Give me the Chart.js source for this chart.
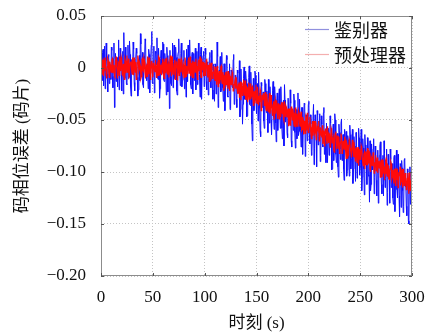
<!DOCTYPE html>
<html>
<head>
<meta charset="utf-8">
<script src="https://cdn.jsdelivr.net/npm/chart.js@4/dist/chart.umd.min.js"></script>
<style>
  html, body { margin: 0; padding: 0; background: #fff; }
  #wrap { width: 426px; height: 336px; }
</style>
</head>
<body>
<div id="wrap"><canvas id="errChart" width="426" height="336"></canvas></div>
<script>
// code phase error in chips, sampled every 0.5 s from 0 to 300 s
const sampleStep = 0.5;

const discriminator = [
  0.005,-0.009,-0.012,0.015,0.018,-0.017,0.002,0.021,-0.020,-0.004,0.024,0.007,-0.006,-0.023,0.011,0.013,-0.015,0.001,0.003,-0.011,
  0.020,0.017,-0.008,-0.019,0.009,0.024,-0.038,-0.006,0.014,-0.013,0.006,0.010,-0.018,0.003,0.027,-0.021,-0.003,0.019,0.009,-0.007,
  -0.022,0.012,0.016,-0.025,0.034,0.006,-0.010,0.020,0.004,-0.015,-0.016,0.002,0.022,-0.010,-0.005,0.026,0.013,-0.018,-0.027,0.008,
  0.008,-0.003,0.025,0.018,-0.014,-0.022,0.002,0.009,0.019,0.014,-0.009,-0.027,-0.021,0.005,0.012,-0.012,0.033,0.023,-0.006,-0.001,
  0.015,-0.016,-0.019,0.011,0.007,0.028,0.026,-0.008,-0.012,0.004,-0.002,-0.020,0.018,0.013,-0.024,-0.005,0.010,0.022,0.035,-0.014,
  -0.015,0.007,0.021,-0.024,-0.007,0.016,0.014,0.003,0.029,-0.010,-0.011,0.019,0.005,-0.029,-0.020,0.009,0.017,-0.006,-0.004,0.025,
  0.023,-0.011,-0.013,0.014,0.009,-0.002,-0.026,0.020,0.012,-0.023,0.001,0.006,-0.039,0.017,-0.008,-0.015,-0.017,0.003,0.024,-0.019,
  0.006,0.022,-0.010,-0.007,0.020,0.010,-0.022,-0.026,0.011,0.015,0.028,0.001,-0.005,-0.017,0.014,0.024,-0.018,-0.012,0.004,0.008,
  0.017,-0.020,-0.009,0.005,-0.028,0.018,0.010,-0.013,0.022,-0.001,-0.003,0.027,0.008,-0.016,-0.020,0.011,0.015,-0.025,0.001,0.014,
  -0.012,0.003,0.019,-0.021,0.005,0.016,-0.016,-0.008,0.024,0.009,-0.006,-0.028,0.013,0.020,-0.030,-0.004,0.007,0.012,0.016,-0.018,
  -0.003,0.019,0.013,-0.013,-0.021,0.005,0.006,-0.026,-0.010,0.010,0.015,-0.006,-0.019,0.017,-0.002,-0.021,-0.030,0.003,0.004,-0.032,
  -0.002,0.004,-0.025,-0.012,0.025,0.011,-0.038,-0.029,-0.002,-0.005,0.011,-0.023,-0.021,0.015,-0.009,-0.019,-0.032,0.004,0.004,-0.041,
  -0.018,-0.010,0.012,0.008,-0.027,-0.028,-0.010,-0.006,0.004,-0.040,-0.039,-0.002,-0.004,-0.018,-0.019,0.008,0.013,-0.035,-0.027,-0.007,
  -0.011,-0.030,-0.038,-0.002,-0.005,-0.024,-0.021,0.007,-0.047,-0.040,-0.001,-0.016,-0.015,-0.054,-0.035,-0.010,0.001,-0.030,-0.030,-0.003,
  -0.011,-0.047,-0.046,-0.015,-0.021,-0.009,0.002,-0.035,-0.036,-0.004,-0.018,-0.054,-0.070,-0.024,-0.010,-0.041,-0.031,-0.003,-0.007,-0.031,
  -0.044,-0.015,-0.020,-0.051,-0.004,-0.024,-0.039,-0.061,-0.066,-0.014,-0.017,-0.038,-0.028,-0.023,-0.051,-0.058,-0.011,-0.015,-0.035,-0.043,
  -0.022,-0.036,-0.062,-0.011,-0.029,-0.053,-0.018,-0.030,-0.050,-0.064,-0.040,-0.022,-0.013,-0.047,-0.059,-0.018,-0.030,-0.053,-0.071,-0.036,
  -0.024,-0.060,-0.046,-0.029,-0.020,-0.044,-0.058,-0.018,-0.037,-0.058,-0.068,-0.035,-0.031,-0.075,-0.016,-0.031,-0.052,-0.043,-0.042,-0.063,
  -0.067,-0.029,-0.029,-0.054,-0.050,-0.021,-0.034,-0.070,-0.076,-0.043,-0.040,-0.060,-0.025,-0.031,-0.062,-0.077,-0.048,-0.040,-0.068,-0.053,
  -0.024,-0.065,-0.061,-0.030,-0.046,-0.060,-0.076,-0.038,-0.038,-0.083,-0.056,-0.051,-0.034,-0.035,-0.085,-0.074,-0.045,-0.048,-0.070,-0.066,
  -0.035,-0.032,-0.064,-0.073,-0.045,-0.054,-0.084,-0.080,-0.055,-0.047,-0.035,-0.093,-0.077,-0.045,-0.054,-0.065,-0.095,-0.041,-0.045,-0.074,
  -0.066,-0.056,-0.044,-0.090,-0.084,-0.046,-0.054,-0.074,-0.076,-0.043,-0.038,-0.083,-0.073,-0.065,-0.091,-0.053,-0.053,-0.091,-0.065,-0.058,
  -0.084,-0.075,-0.046,-0.053,-0.063,-0.098,-0.097,-0.065,-0.054,-0.089,-0.076,-0.044,-0.050,-0.083,-0.091,-0.064,-0.063,-0.095,-0.105,-0.054,
  -0.062,-0.078,-0.088,-0.053,-0.049,-0.089,-0.078,-0.064,-0.097,-0.108,-0.059,-0.073,-0.072,-0.061,-0.104,-0.098,-0.065,-0.069,-0.087,-0.104,
  -0.055,-0.064,-0.097,-0.088,-0.072,-0.059,-0.111,-0.097,-0.066,-0.075,-0.086,-0.109,-0.062,-0.070,-0.106,-0.085,-0.080,-0.058,-0.067,-0.103,
  -0.096,-0.076,-0.059,-0.118,-0.105,-0.068,-0.077,-0.097,-0.122,-0.064,-0.074,-0.093,-0.089,-0.112,-0.067,-0.078,-0.104,-0.103,-0.129,-0.070,
  -0.118,-0.112,-0.073,-0.086,-0.098,-0.078,-0.068,-0.121,-0.105,-0.075,-0.090,-0.108,-0.123,-0.092,-0.079,-0.130,-0.103,-0.084,-0.075,-0.071,
  -0.099,-0.112,-0.121,-0.087,-0.084,-0.123,-0.070,-0.082,-0.115,-0.106,-0.090,-0.078,-0.132,-0.120,-0.083,-0.093,-0.100,-0.130,-0.078,-0.088,
  -0.115,-0.098,-0.092,-0.125,-0.131,-0.086,-0.084,-0.138,-0.109,-0.096,-0.079,-0.117,-0.125,-0.083,-0.101,-0.123,-0.143,-0.092,-0.093,-0.134,
  -0.089,-0.096,-0.118,-0.139,-0.133,-0.088,-0.087,-0.114,-0.111,-0.133,-0.142,-0.097,-0.100,-0.147,-0.150,-0.105,-0.095,-0.131,-0.119,-0.096,
  -0.132
];

const preprocessor = [
  0.004,-0.003,-0.006,0.007,0.008,-0.008,-0.002,0.005,0.010,0.002,-0.005,-0.010,0.001,0.009,0.007,-0.004,-0.009,0.006,0.003,-0.001,
  -0.004,0.008,0.009,-0.005,-0.001,0.003,-0.008,-0.009,0.006,0.011,0.002,-0.002,-0.010,0.006,0.005,-0.007,0.011,0.001,-0.003,0.010,
  0.007,-0.006,-0.007,0.004,0.000,-0.011,0.009,0.007,-0.005,0.000,0.012,-0.004,-0.002,0.009,-0.009,-0.008,0.004,0.005,0.006,-0.002,
  -0.006,0.010,0.003,-0.007,0.010,0.002,-0.004,0.006,-0.011,-0.009,0.005,0.012,0.008,-0.003,-0.001,0.004,0.002,-0.010,-0.008,0.008,
  0.009,-0.002,-0.003,0.009,0.006,-0.005,-0.010,0.003,0.001,-0.008,0.011,0.001,-0.006,0.010,0.004,-0.011,-0.002,0.006,0.007,-0.004,
  -0.009,0.005,0.005,-0.001,-0.004,0.008,0.008,-0.009,0.002,0.004,-0.007,0.011,0.010,-0.006,-0.005,0.002,0.003,-0.007,-0.001,0.009,
  0.006,-0.008,-0.010,0.003,0.009,-0.005,0.001,0.010,-0.006,0.001,0.004,-0.009,-0.003,0.007,0.012,-0.002,-0.008,0.011,0.002,-0.006,
  -0.005,0.004,0.008,-0.011,-0.001,0.006,0.005,-0.003,-0.012,0.009,0.003,-0.007,0.009,0.000,-0.004,0.008,0.006,-0.005,-0.007,0.003,
  0.001,-0.009,0.010,0.006,-0.008,0.002,-0.002,-0.006,0.007,0.010,-0.005,-0.001,0.011,-0.008,0.000,0.005,-0.009,0.007,0.004,-0.010,
  0.006,0.001,-0.004,0.009,0.002,-0.007,-0.011,0.004,0.008,-0.003,0.003,0.011,-0.006,-0.009,0.009,0.002,-0.002,0.006,-0.008,-0.004,
  0.005,-0.007,-0.004,0.007,0.009,-0.003,-0.009,0.003,-0.001,-0.013,0.005,0.000,-0.012,0.005,0.000,-0.010,-0.005,-0.004,0.002,-0.009,
  -0.012,0.001,-0.005,-0.016,0.002,-0.003,-0.018,-0.007,-0.003,-0.015,-0.011,0.001,0.002,-0.013,-0.015,-0.004,-0.007,-0.022,-0.019,-0.009,
  -0.004,-0.016,-0.016,-0.003,-0.011,-0.020,-0.003,-0.010,-0.022,-0.008,-0.010,-0.016,-0.015,-0.004,-0.007,-0.022,-0.021,-0.016,-0.014,-0.011,
  -0.020,-0.009,-0.009,-0.022,-0.025,-0.016,-0.014,-0.028,-0.019,-0.013,-0.031,-0.019,-0.014,-0.027,-0.018,-0.011,-0.026,-0.025,-0.012,-0.030,
  -0.030,-0.018,-0.019,-0.033,-0.022,-0.014,-0.030,-0.025,-0.015,-0.030,-0.027,-0.019,-0.018,-0.028,-0.036,-0.023,-0.023,-0.034,-0.022,-0.016,
  -0.032,-0.034,-0.018,-0.027,-0.036,-0.032,-0.028,-0.021,-0.024,-0.041,-0.040,-0.026,-0.031,-0.025,-0.024,-0.036,-0.035,-0.023,-0.039,-0.041,
  -0.025,-0.033,-0.036,-0.042,-0.031,-0.024,-0.044,-0.039,-0.026,-0.035,-0.042,-0.046,-0.035,-0.032,-0.049,-0.034,-0.031,-0.044,-0.038,-0.031,
  -0.042,-0.049,-0.034,-0.037,-0.049,-0.035,-0.038,-0.047,-0.033,-0.041,-0.044,-0.033,-0.049,-0.051,-0.032,-0.041,-0.047,-0.037,-0.039,-0.047,
  -0.043,-0.039,-0.056,-0.050,-0.039,-0.055,-0.048,-0.037,-0.043,-0.050,-0.039,-0.043,-0.054,-0.056,-0.048,-0.038,-0.057,-0.051,-0.044,-0.056,
  -0.052,-0.041,-0.043,-0.053,-0.056,-0.047,-0.042,-0.060,-0.059,-0.047,-0.050,-0.064,-0.054,-0.051,-0.063,-0.047,-0.049,-0.060,-0.043,-0.054,
  -0.062,-0.059,-0.053,-0.047,-0.057,-0.064,-0.068,-0.056,-0.051,-0.065,-0.057,-0.051,-0.063,-0.061,-0.051,-0.069,-0.068,-0.056,-0.058,-0.057,
  -0.051,-0.070,-0.068,-0.057,-0.057,-0.065,-0.066,-0.055,-0.073,-0.069,-0.060,-0.075,-0.064,-0.059,-0.058,-0.069,-0.073,-0.056,-0.068,-0.072,
  -0.063,-0.064,-0.076,-0.074,-0.058,-0.060,-0.072,-0.070,-0.067,-0.079,-0.081,-0.066,-0.063,-0.061,-0.071,-0.078,-0.065,-0.070,-0.077,-0.066,
  -0.082,-0.077,-0.071,-0.063,-0.066,-0.082,-0.081,-0.070,-0.074,-0.078,-0.066,-0.069,-0.080,-0.087,-0.072,-0.074,-0.087,-0.084,-0.076,-0.069,
  -0.071,-0.077,-0.081,-0.086,-0.086,-0.069,-0.076,-0.085,-0.071,-0.077,-0.086,-0.090,-0.078,-0.076,-0.091,-0.080,-0.076,-0.094,-0.083,-0.078,
  -0.088,-0.086,-0.075,-0.077,-0.086,-0.091,-0.094,-0.083,-0.081,-0.097,-0.085,-0.080,-0.093,-0.087,-0.077,-0.092,-0.091,-0.080,-0.081,-0.097,
  -0.100,-0.085,-0.087,-0.094,-0.090,-0.081,-0.085,-0.101,-0.097,-0.091,-0.084,-0.099,-0.095,-0.086,-0.101,-0.090,-0.091,-0.096,-0.089,-0.105,
  -0.096,-0.088,-0.105,-0.101,-0.088,-0.093,-0.095,-0.108,-0.101,-0.089,-0.087,-0.100,-0.104,-0.093,-0.094,-0.106,-0.107,-0.099,-0.097,-0.090,
  -0.092,-0.107,-0.105,-0.098,-0.102,-0.111,-0.097,-0.101,-0.113,-0.096,-0.100,-0.108,-0.097,-0.115,-0.110,-0.100,-0.104,-0.095,-0.113,-0.109,
  -0.101,-0.097,-0.115,-0.108,-0.097,-0.113,-0.110,-0.101,-0.105,-0.117,-0.115,-0.106,-0.101,-0.115,-0.121,-0.100,-0.106,-0.118,-0.112,-0.107,
  -0.110
];

const seriesNames = ['鉴别器', '预处理器'];
const xTicks = [0, 50, 100, 150, 200, 250, 300];
const yTicks = [-0.20, -0.15, -0.10, -0.05, 0, 0.05];
const yTickLabels = ['\u22120.20', '\u22120.15', '\u22120.10', '\u22120.05', '0', '0.05'];

const serif = "'Liberation Serif', 'Noto Sans CJK SC', serif";
const toPoints = arr => arr.map((v, i) => ({ x: i * sampleStep, y: v }));

// frame, inner tick marks and the legend in the upper right corner
const framePlugin = {
    id: 'frame',
    afterDraw(chart) {
        const { ctx, chartArea: a, scales } = chart;
        ctx.save();
        ctx.setLineDash([]);
        ctx.strokeStyle = '#8c8c8c';
        ctx.lineWidth = 1;
        ctx.strokeRect(a.left + 0.5, a.top + 0.5, a.right - a.left - 1, a.bottom - a.top - 1);

        ctx.strokeStyle = '#555';
        ctx.beginPath();
        xTicks.forEach(t => {
            const px = Math.round(scales.x.getPixelForValue(t)) + 0.5;
            ctx.moveTo(px, a.bottom); ctx.lineTo(px, a.bottom - 3);
            ctx.moveTo(px, a.top); ctx.lineTo(px, a.top + 3);
        });
        yTicks.forEach(t => {
            const py = Math.round(scales.y.getPixelForValue(t)) + 0.5;
            ctx.moveTo(a.left, py); ctx.lineTo(a.left + 3, py);
            ctx.moveTo(a.right, py); ctx.lineTo(a.right - 3, py);
        });
        ctx.stroke();

        // legend
        const legendColors = ['rgba(70,70,200,0.6)', 'rgba(235,110,110,0.55)'];
        ctx.font = "18px 'Noto Sans CJK SC', sans-serif";
        ctx.textBaseline = 'middle';
        ctx.textAlign = 'left';
        seriesNames.forEach((name, i) => {
            const y = a.top + 13 + i * 25;
            ctx.strokeStyle = legendColors[i];
            ctx.lineWidth = 1.2;
            ctx.beginPath();
            ctx.moveTo(a.right - 107, y + 0.5);
            ctx.lineTo(a.right - 83, y + 0.5);
            ctx.stroke();
            ctx.fillStyle = '#111';
            ctx.fillText(name, a.right - 78, y + 1);
        });
        ctx.restore();
    }
};

new Chart(document.getElementById('errChart'), {
    type: 'line',
    data: {
        datasets: [
            {
                label: seriesNames[0],
                data: toPoints(discriminator),
                borderColor: '#1010ff',
                borderWidth: 1,
                pointRadius: 0,
                tension: 0,
                order: 2
            },
            {
                label: seriesNames[1],
                data: toPoints(preprocessor),
                borderColor: '#ff0a0a',
                borderWidth: 1.2,
                pointRadius: 0,
                tension: 0,
                order: 1
            }
        ]
    },
    options: {
        responsive: false,
        animation: false,
        devicePixelRatio: 1,
        layout: { padding: { left: 0, right: 14, top: 16, bottom: 0 } },
        plugins: {
            legend: { display: false },
            tooltip: { enabled: false }
        },
        scales: {
            x: {
                type: 'linear',
                min: 0,
                max: 300,
                afterFit: s => { s.height = 60; s.paddingLeft = 0; s.paddingRight = 0; },
                afterBuildTicks: s => { s.ticks = xTicks.map(v => ({ value: v })); },
                ticks: {
                    padding: 11,
                    color: '#111',
                    font: { family: serif, size: 17 },
                    callback: v => String(v)
                },
                grid: { color: '#c4c4c4', drawTicks: false },
                border: { display: false, dash: [1, 2] },
                title: {
                    display: true,
                    text: '时刻 (s)',
                    color: '#111',
                    font: { family: serif, size: 17 },
                    padding: { top: 0, bottom: 2 }
                }
            },
            y: {
                type: 'linear',
                min: -0.20,
                max: 0.05,
                afterFit: s => { s.width = 101; s.paddingTop = 0; s.paddingBottom = 0; },
                afterBuildTicks: s => { s.ticks = yTicks.map(v => ({ value: v })); },
                ticks: {
                    padding: 15,
                    color: '#111',
                    font: { family: serif, size: 17 },
                    callback: v => yTickLabels[yTicks.findIndex(t => Math.abs(t - v) < 1e-9)]
                },
                grid: { color: '#c4c4c4', drawTicks: false },
                border: { display: false, dash: [1, 2] },
                title: {
                    display: true,
                    text: '码相位误差 (码片)',
                    color: '#111',
                    font: { family: serif, size: 17 },
                    padding: { top: 12, bottom: 0 }
                }
            }
        }
    },
    plugins: [framePlugin]
});
</script>
</body>
</html>
